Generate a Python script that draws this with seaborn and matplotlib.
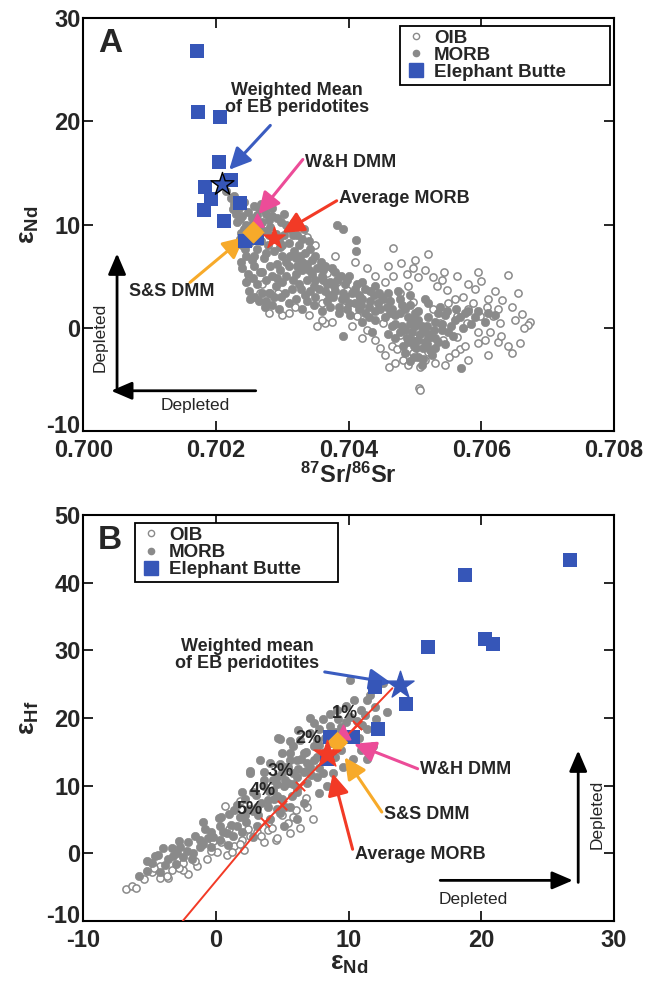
import matplotlib
matplotlib.use('Agg')
import matplotlib.pyplot as plt
import matplotlib.transforms as mtransforms
import seaborn as sns
import pandas as pd
from matplotlib.lines import Line2D

# ---------------- DATA ----------------
# Panel A: 87Sr/86Sr vs eps Nd
eb_a = [(0.70172, 26.8), (0.70173, 20.9), (0.70206, 20.4), (0.70205, 16.1),
        (0.70184, 13.6), (0.70223, 14.3), (0.70193, 12.5), (0.70236, 12.1),
        (0.70182, 11.4), (0.70212, 10.3), (0.70244, 8.4), (0.70262, 8.7)]
wmean_a = (0.70209, 13.9)
ss_dmm_a = (0.70256, 9.3)
avg_morb_a = (0.70288, 8.7)
wh_dmm_a = (0.70262, 10.4)

morb_a = [(0.70215, 13.2), (0.70222, 12.6), (0.70228, 12.0), (0.70235, 11.6), (0.70230, 11.0),
          (0.70240, 10.8), (0.70248, 11.2), (0.70255, 10.6), (0.70262, 10.9), (0.70270, 10.2),
          (0.70245, 10.0), (0.70252, 9.6), (0.70238, 9.2), (0.70260, 9.0), (0.70275, 9.4),
          (0.70282, 9.8), (0.70290, 9.1), (0.70268, 8.4), (0.70250, 8.2), (0.70240, 8.0),
          (0.70278, 8.0), (0.70295, 8.5), (0.70302, 9.0), (0.70310, 8.2), (0.70288, 7.4),
          (0.70262, 7.6), (0.70245, 7.0), (0.70272, 6.8), (0.70300, 7.0), (0.70318, 7.4),
          (0.70325, 8.0), (0.70335, 7.2), (0.70292, 6.2), (0.70258, 6.0), (0.70248, 5.2),
          (0.70270, 5.4), (0.70285, 5.0), (0.70310, 6.0), (0.70330, 6.4), (0.70345, 6.6),
          (0.70352, 5.8), (0.70320, 5.2), (0.70300, 4.4), (0.70262, 4.2), (0.70250, 3.6),
          (0.70280, 3.4), (0.70298, 3.0), (0.70315, 3.8), (0.70338, 4.6), (0.70360, 5.0),
          (0.70372, 4.4), (0.70355, 3.8), (0.70335, 3.2), (0.70310, 2.4), (0.70285, 2.2),
          (0.70265, 2.6), (0.70380, 3.6), (0.70395, 4.2), (0.70405, 3.4), (0.70390, 2.8),
          (0.70368, 2.6), (0.70348, 2.2), (0.70420, 2.8), (0.70432, 3.6), (0.70445, 2.4),
          (0.70458, 2.0), (0.70440, 1.6), (0.70415, 1.8), (0.70470, 1.2), (0.70485, 1.8),
          (0.70498, 0.8), (0.70510, 0.2), (0.70495, -0.4), (0.70480, 0.2), (0.70505, -1.2),
          (0.70520, -0.6), (0.70512, -2.0), (0.70530, 0.6), (0.70545, 1.2), (0.70560, 0.8),
          (0.70575, 1.4), (0.70590, 1.0), (0.70383, 10.0), (0.70392, 9.6), (0.70411, 8.5),
          (0.70411, 7.4), (0.70276, 2.6), (0.70392, -0.8), (0.70569, -3.9), (0.70228, 12.8),
          (0.70242, 12.2), (0.70258, 11.8), (0.70272, 11.4), (0.70285, 10.8), (0.70298, 10.2),
          (0.70312, 9.6), (0.70322, 9.0), (0.70340, 8.4), (0.70265, 11.6), (0.70232, 10.2),
          (0.70255, 10.0), (0.70280, 9.0), (0.70300, 8.0), (0.70320, 6.8), (0.70340, 5.6),
          (0.70365, 6.0), (0.70380, 5.4), (0.70400, 5.0), (0.70420, 4.4), (0.70440, 4.0),
          (0.70460, 3.4), (0.70478, 2.8), (0.70492, 2.2), (0.70505, 1.6), (0.70520, 1.0),
          (0.70500, 0.2), (0.70488, -1.0), (0.70515, -1.4), (0.70530, -1.0), (0.70525, -2.6),
          (0.70505, -2.8), (0.70540, -0.2), (0.70555, 0.2), (0.70538, 2.0), (0.70520, 2.4),
          (0.70455, 1.0), (0.70470, 0.4), (0.70430, 1.0), (0.70402, 1.2), (0.70385, 2.0),
          (0.70360, 1.6), (0.70330, 1.8), (0.70295, 1.8), (0.70270, 3.4), (0.70290, 4.0),
          (0.70325, 4.2), (0.70350, 4.6), (0.70370, 3.2), (0.70410, 2.4), (0.70450, 3.0),
          (0.70475, 3.6), (0.70492, 3.2), (0.70515, 2.8), (0.70498, -1.8), (0.70485, -2.4),
          (0.70530, -2.0), (0.70545, -1.6), (0.70558, -0.8), (0.70572, 0.0), (0.70585, 0.4),
          (0.70232, 12.4), (0.70238, 11.9), (0.70236, 10.5), (0.70242, 9.6), (0.70236, 8.6),
          (0.70244, 7.6), (0.70238, 6.4), (0.70254, 6.6), (0.70246, 4.4), (0.70256, 4.8),
          (0.70258, 3.0), (0.70252, 2.8), (0.70268, 12.0), (0.70275, 11.0), (0.70280, 10.4),
          (0.70292, 10.6), (0.70268, 9.6), (0.70286, 8.6), (0.70276, 7.2), (0.70296, 7.8),
          (0.70282, 6.0), (0.70296, 5.6), (0.70276, 4.6), (0.70292, 4.8), (0.70306, 5.0),
          (0.70288, 3.0), (0.70304, 3.4), (0.70274, 2.0), (0.70305, 10.0), (0.70316, 9.0),
          (0.70330, 8.6), (0.70312, 7.0), (0.70326, 7.0), (0.70342, 7.6), (0.70316, 4.6),
          (0.70330, 5.6), (0.70345, 5.2), (0.70328, 3.8), (0.70342, 3.6), (0.70320, 2.8),
          (0.70338, 2.6), (0.70350, 3.0), (0.70350, 7.0), (0.70358, 6.4), (0.70362, 5.6),
          (0.70375, 5.8), (0.70388, 5.0), (0.70368, 4.2), (0.70382, 4.6), (0.70398, 4.6),
          (0.70376, 3.0), (0.70392, 3.4), (0.70400, 2.4), (0.70372, 2.0), (0.70385, 1.4),
          (0.70398, 1.8), (0.70365, 3.6), (0.70410, 3.8), (0.70412, 4.2), (0.70425, 3.8),
          (0.70438, 3.2), (0.70418, 2.2), (0.70432, 2.6), (0.70448, 1.8), (0.70425, 1.4),
          (0.70440, 0.8), (0.70452, 2.8), (0.70462, 2.6), (0.70420, 0.6), (0.70435, -0.4),
          (0.70465, 1.8), (0.70478, 1.4), (0.70490, 1.0), (0.70465, 0.2), (0.70478, -0.4),
          (0.70492, 0.4), (0.70505, 0.8), (0.70518, 0.2), (0.70508, -0.6), (0.70490, -1.4),
          (0.70502, -2.0), (0.70518, -1.6), (0.70512, -3.0), (0.70498, -2.8), (0.70522, -2.2),
          (0.70510, -3.6), (0.70470, -1.0), (0.70482, -1.8), (0.70460, -0.6), (0.70528, -0.2),
          (0.70535, -1.4), (0.70540, 0.4), (0.70550, -0.4), (0.70548, 1.6), (0.70562, 1.8),
          (0.70568, 1.0), (0.70580, 1.6), (0.70595, 1.6), (0.70610, 1.4), (0.70605, 0.6),
          (0.70620, 1.2), (0.70226, 11.5), (0.70248, 9.0), (0.70264, 9.8), (0.70284, 11.6),
          (0.70302, 11.0), (0.70318, 10.2), (0.70332, 9.6), (0.70258, 7.0), (0.70266, 5.4),
          (0.70240, 5.8), (0.70306, 6.4), (0.70322, 6.0), (0.70338, 6.2), (0.70348, 4.0),
          (0.70362, 4.6), (0.70378, 4.0), (0.70395, 3.0), (0.70415, 3.2), (0.70430, 2.0),
          (0.70446, 3.4), (0.70462, 1.4), (0.70480, 2.2), (0.70500, 1.4), (0.70485, -0.2),
          (0.70512, -0.2), (0.70495, -1.2), (0.70520, -1.0), (0.70492, -3.2), (0.70535, 1.4)]

oib_a = [(0.70467, 7.7), (0.70520, 7.1), (0.70479, 6.3), (0.70497, 5.8), (0.70544, 5.4),
         (0.70563, 5.0), (0.70599, 4.5), (0.70640, 5.1), (0.70631, 2.7), (0.70646, 2.0),
         (0.70661, 1.3), (0.70673, 0.6), (0.70670, 0.3), (0.70640, -1.8), (0.70646, -2.4),
         (0.70625, -1.4), (0.70595, -1.5), (0.70580, -3.1), (0.70568, -2.1), (0.70551, -2.8),
         (0.70520, -2.3), (0.70508, -3.8), (0.70506, -5.8), (0.70482, -3.1), (0.70461, -3.8),
         (0.70447, -2.0), (0.70465, -1.8), (0.70428, -0.2), (0.70452, 0.5), (0.70413, 1.1),
         (0.70364, 0.5), (0.70360, 0.8), (0.70392, 2.0), (0.70360, 2.4), (0.70319, 2.0),
         (0.70294, 3.4), (0.70270, 4.2), (0.70267, 3.4), (0.70282, 3.4), (0.70337, 8.8),
         (0.70428, 5.8), (0.70440, 5.0), (0.70467, 5.0), (0.70488, 5.2), (0.70505, 4.9),
         (0.70527, 4.9), (0.70533, 4.0), (0.70548, 3.7), (0.70572, 3.0), (0.70587, 2.4),
         (0.70608, 2.0), (0.70617, 1.1), (0.70598, 1.1), (0.70578, 0.5), (0.70563, 1.1),
         (0.70538, 0.5), (0.70527, 1.8), (0.70497, 2.5), (0.70477, 3.4), (0.70458, 2.9),
         (0.70437, 2.2), (0.70417, 3.0), (0.70398, 3.7), (0.70383, 4.4), (0.70367, 5.3),
         (0.70563, -0.9), (0.70542, -1.2), (0.70523, -0.9), (0.70497, -0.9), (0.70477, -0.7),
         (0.70473, -2.1), (0.70497, -2.4), (0.70515, -3.1), (0.70658, -1.5), (0.70613, -0.4),
         (0.70628, 0.5), (0.70508, -6.0), (0.70655, 3.4), (0.70620, 3.6), (0.70590, 3.8),
         (0.70610, -2.6), (0.70595, -0.4), (0.70580, 1.8), (0.70550, 2.4), (0.70340, 1.2),
         (0.70310, 1.4), (0.70250, 4.8), (0.70455, 4.4), (0.70490, 4.0), (0.70560, 2.8),
         (0.70300, 1.2), (0.70280, 1.4), (0.70352, 0.2), (0.70375, 0.6), (0.70405, 0.2),
         (0.70420, -1.0), (0.70440, -1.2), (0.70455, -2.6), (0.70470, -3.4), (0.70490, -3.6),
         (0.70530, -3.4), (0.70545, -3.6), (0.70560, -2.4), (0.70575, -1.8), (0.70605, -1.2),
         (0.70630, -0.8), (0.70650, 0.8), (0.70665, 0.0), (0.70610, 2.8), (0.70625, 1.8),
         (0.70580, 4.2), (0.70540, 4.6), (0.70515, 5.6), (0.70460, 6.0), (0.70410, 6.4),
         (0.70380, 7.0), (0.70350, 8.0), (0.70320, 10.4), (0.70595, 5.4), (0.70500, 6.6)]

# Panel B: eps Nd vs eps Hf
eb_b = [(26.7, 43.4), (18.8, 41.2), (20.3, 31.6), (20.9, 31.0), (16.0, 30.5),
        (14.3, 22.0), (12.0, 24.6), (12.2, 18.4), (8.6, 17.2), (10.3, 17.2), (8.4, 13.9)]
wmean_b = (13.9, 24.9)
ss_dmm_b = (9.1, 16.4)
avg_morb_b = (8.4, 14.7)
wh_dmm_b = (9.6, 18.0)

morb_b = [(4.8, 16.9), (2.6, 12.2), (2.0, 9.0), (-1.0, 4.7), (-4.0, 0.8), (-4.2, -2.7),
          (-3.6, -0.9), (-2.7, 1.0), (-2.1, 1.6), (-1.2, 2.0), (-0.4, 3.1), (0.3, 4.0),
          (1.1, 4.2), (1.8, 5.4), (2.4, 6.4), (3.1, 6.9), (3.9, 7.9), (4.6, 8.4),
          (5.4, 10.4), (5.8, 11.9), (6.1, 13.8), (5.6, 13.8), (-2.5, -0.5), (-1.7, 0.1),
          (-2.9, 0.1), (-3.3, 0.8), (-0.4, 1.0), (0.3, 2.0), (1.3, 2.5), (2.0, 3.1),
          (3.1, 4.0), (4.1, 5.0), (4.8, 6.0), (5.2, 6.9), (5.7, 8.4), (6.1, 9.7),
          (3.6, 9.9), (4.3, 10.9), (5.0, 11.9), (5.4, 12.8), (2.3, 4.7), (0.5, 3.1),
          (-1.2, 1.0), (10.1, 25.6), (11.4, 22.7), (12.9, 20.9), (12.6, 25.2), (7.1, 20.0),
          (8.1, 19.8), (9.1, 21.2), (10.1, 20.2), (10.9, 21.2), (11.4, 18.3), (12.1, 19.8),
          (9.4, 18.7), (7.8, 18.3), (7.1, 17.8), (6.3, 16.8), (4.7, 17.1), (5.6, 14.8),
          (6.6, 14.8), (7.6, 14.3), (7.1, 12.8), (8.1, 11.9), (7.6, 11.3), (6.9, 10.4),
          (7.8, 8.9), (6.1, 11.3), (10.3, 13.9), (10.9, 15.3), (11.8, 15.8), (11.4, 13.9),
          (9.6, 12.8), (8.8, 11.9), (8.4, 9.9), (2.8, 9.0), (2.6, 11.9), (3.6, 10.9),
          (4.6, 11.3), (5.1, 12.8), (4.1, 13.4), (3.3, 13.8), (5.1, 9.9), (4.3, 9.4),
          (6.1, 9.0), (6.6, 7.5), (5.6, 6.9), (4.6, 6.5), (3.9, 6.9), (6.1, 5.0),
          (5.1, 4.0), (9.4, 15.3), (8.7, 16.3), (10.1, 17.2), (-5.2, -1.2), (-4.6, -0.4),
          (-3.0, -1.6), (-1.8, -0.8), (0.9, 1.2), (2.8, 2.4), (3.2, 5.6), (1.4, 6.4),
          (0.2, 5.2), (-0.6, 2.2), (6.8, 12.2), (7.4, 15.8), (8.2, 17.0), (9.0, 18.0),
          (9.8, 19.4), (11.0, 19.0), (8.6, 20.6), (7.6, 16.8), (6.6, 12.0), (5.0, 8.0),
          (-5.8, -3.4), (-5.2, -2.6), (-4.8, -1.4), (-4.4, -0.2), (-3.8, -1.8), (-3.2, -0.4),
          (-2.8, 1.8), (-2.2, 0.4), (-1.6, 2.6), (-1.0, 1.4), (-0.8, 3.6), (-0.2, 2.4),
          (0.4, 5.4), (0.8, 3.0), (1.0, 5.8), (1.6, 4.0), (1.6, 7.2), (2.2, 5.6),
          (2.2, 8.0), (2.8, 6.2), (3.0, 8.6), (3.4, 7.4), (3.6, 12.0), (4.0, 9.2),
          (4.4, 8.0), (4.6, 10.2), (4.8, 13.2), (5.0, 14.8), (5.2, 10.8), (5.8, 10.2),
          (5.8, 15.8), (6.2, 12.4), (6.4, 14.0), (6.8, 15.0), (6.9, 13.4), (7.2, 11.6),
          (7.4, 13.8), (7.8, 16.0), (7.8, 12.6), (8.2, 15.0), (8.6, 18.8), (9.2, 19.8),
          (9.4, 17.2), (9.8, 21.8), (10.4, 22.6), (10.6, 19.6), (11.2, 20.4), (11.6, 23.4),
          (12.0, 21.6), (7.4, 19.2), (6.2, 18.2), (5.6, 16.6), (10.8, 17.0), (9.0, 14.2)]

oib_b = [(-6.8, -5.3), (-6.3, -4.9), (-6.0, -5.2), (-4.8, -2.7), (-3.6, -3.6), (-2.1, -3.1),
         (-2.5, -2.4), (0.7, 7.0), (1.4, 1.1), (4.5, 2.0), (0.8, -0.2), (-0.7, -0.9),
         (-1.4, -1.9), (0.1, 0.2), (2.0, 2.0), (3.1, 3.1), (3.9, 3.5), (5.4, 4.5),
         (5.8, 5.4), (2.6, 6.5), (-2.5, -1.4), (-3.3, -2.4), (-4.2, -1.9), (4.6, 2.3),
         (6.3, 3.8), (-4.7, -2.1), (-3.7, -3.4), (2.1, 0.5), (3.6, 1.6), (5.6, 3.0),
         (2.6, 2.5), (7.3, 5.0), (6.9, 6.9), (3.9, 4.5), (1.0, 3.6), (-0.2, 1.8),
         (-5.4, -3.8), (-4.2, -3.6), (-2.8, -2.2), (-1.6, -1.2), (-0.4, 0.4), (0.4, 1.6),
         (1.2, 0.2), (1.8, 1.4), (2.4, 3.6), (3.4, 2.6), (4.2, 3.8), (5.0, 5.6),
         (6.0, 6.4), (6.8, 8.2), (1.8, 7.8)]

# mixing line (eps Nd, eps Hf) and melt-fraction marks
mix_line = [(-2.5, -10.0), (3.7, 4.6), (5.0, 7.2), (6.3, 10.0), (8.5, 14.5), (10.6, 18.9), (13.3, 24.4)]
pct_marks = [(10.6, 18.9), (8.5, 14.5), (6.3, 10.0), (5.0, 7.2), (3.7, 4.6)]
pct_labels = ['1%', '2%', '3%', '4%', '5%']
pct_label_pos = [(9.7, 20.6), (7.0, 16.9), (4.9, 12.1), (3.5, 9.3), (2.5, 6.5)]

xticks_a = [0.700, 0.702, 0.704, 0.706, 0.708]
xticklabels_a = ['0.700', '0.702', '0.704', '0.706', '0.708']
yticks_a = [-10, 0, 10, 20, 30]
xticks_b = [-10, 0, 10, 20, 30]
yticks_b = [-10, 0, 10, 20, 30, 40, 50]

# ---------------- STYLE ----------------
sns.set_style('ticks')
plt.rcParams['font.family'] = ['Liberation Sans', 'DejaVu Sans']
plt.rcParams['axes.unicode_minus'] = False
plt.rcParams['mathtext.fontset'] = 'custom'
plt.rcParams['mathtext.rm'] = 'Liberation Sans:bold'
plt.rcParams['mathtext.bf'] = 'Liberation Sans:bold'
plt.rcParams['mathtext.it'] = 'Liberation Sans:bold'
plt.rcParams['mathtext.default'] = 'regular'

GRAY = '#8a8a8a'
BLUE = '#3656b8'
ORANGE = '#f7aa2a'
RED = '#f23a26'
PINK = '#ec4c98'
ABLUE = '#3a5cc0'

fig = plt.figure(figsize=(6.45, 9.85), dpi=100)
axA = fig.add_axes([0.129, 0.5624, 0.823, 0.4193])
axB = fig.add_axes([0.129, 0.0650, 0.823, 0.4122])


def df(pairs):
    return pd.DataFrame(pairs, columns=['x', 'y'])


def style_axes(ax):
    for s in ax.spines.values():
        s.set_linewidth(1.5)
        s.set_color('black')
    ax.tick_params(direction='in', length=7, width=1.4, top=True, right=True,
                   labelsize=17, pad=2)
    ax.tick_params(axis='x', pad=6)
    for lab in ax.get_xticklabels() + ax.get_yticklabels():
        lab.set_fontweight('bold')
    # lift the lowest y label a little so it clears the first x label
    low = ax.get_yticklabels()[0]
    low.set_transform(low.get_transform() +
                      mtransforms.ScaledTranslation(0, 5 / 72, ax.figure.dpi_scale_trans))


def arrow(ax, frm, to, color, lw=2.2, hl=0.65, hw=0.32, ms=20):
    ax.annotate('', xy=to, xytext=frm,
                arrowprops=dict(arrowstyle=f'-|>,head_length={hl},head_width={hw}',
                                color=color, lw=lw, shrinkA=0, shrinkB=0,
                                mutation_scale=ms))


def scatter_all(ax, oib, morb, eb):
    sns.scatterplot(data=df(oib), x='x', y='y', ax=ax, marker='o', s=27,
                    facecolor='white', edgecolor=GRAY, linewidth=1.1, legend=False, zorder=2)
    sns.scatterplot(data=df(morb), x='x', y='y', ax=ax, marker='o', s=36,
                    color=GRAY, edgecolor=GRAY, linewidth=0.5, legend=False, zorder=3)
    sns.scatterplot(data=df(eb), x='x', y='y', ax=ax, marker='s', s=110,
                    color=BLUE, edgecolor=BLUE, linewidth=0, legend=False, zorder=4)


def legend(ax, box):
    handles = [Line2D([], [], ls='', marker='o', ms=4.5, mfc='white', mec=GRAY, mew=1.0),
               Line2D([], [], ls='', marker='o', ms=4.5, mfc=GRAY, mec=GRAY),
               Line2D([], [], ls='', marker='s', ms=10, mfc=BLUE, mec=BLUE)]
    leg = ax.legend(handles, ['OIB', 'MORB', 'Elephant Butte'], loc='upper left',
                    bbox_to_anchor=box, mode='expand', frameon=True, fancybox=False,
                    edgecolor='black', framealpha=1, borderpad=0.2,
                    labelspacing=0.0, handletextpad=0.3, handlelength=1.3,
                    borderaxespad=0, prop={'weight': 'bold', 'size': 13.5})
    leg.get_frame().set_linewidth(1.3)


# ---------------- PANEL A ----------------
scatter_all(axA, oib_a, morb_a, eb_a)
axA.scatter(*wh_dmm_a, marker='^', s=90, color=PINK, zorder=5)
axA.scatter(*ss_dmm_a, marker='D', s=110, color=ORANGE, zorder=6)
axA.scatter(*avg_morb_a, marker='*', s=260, color=RED, zorder=6)
axA.scatter(*wmean_a, marker='*', s=300, color=BLUE, edgecolor='black', linewidth=1.0, zorder=7)

axA.set_xlim(0.700, 0.708)
axA.set_ylim(-10, 30)
axA.set_xticks(xticks_a)
axA.set_xticklabels(xticklabels_a)
axA.set_yticks(yticks_a)
axA.set_xlabel(r'$^{87}$Sr/$^{86}$Sr', fontsize=17, fontweight='bold', labelpad=0)
axA.set_ylabel(r'ε$_{Nd}$', fontsize=19, fontweight='bold', labelpad=4)
style_axes(axA)
legend(axA, (0.597, 0.981, 0.395, 0.0))
axA.text(0.028, 0.975, 'A', transform=axA.transAxes, fontsize=24, fontweight='bold', va='top')

tk = dict(fontsize=13, fontweight='bold')
axA.text(0.70322, 22.2, 'Weighted Mean\nof EB peridotites', ha='center', va='center',
         linespacing=1.0, **tk)
arrow(axA, (0.70282, 19.6), (0.70220, 15.3), ABLUE)
axA.text(0.70335, 16.0, 'W&H DMM', ha='left', va='center', **tk)
arrow(axA, (0.70331, 16.3), (0.70264, 11.0), PINK)
axA.text(0.70385, 12.5, 'Average MORB', ha='left', va='center', **tk)
arrow(axA, (0.70382, 12.3), (0.70300, 9.2), RED)
axA.text(0.70134, 3.5, 'S&S DMM', ha='center', va='center', **tk)
arrow(axA, (0.70161, 4.4), (0.70243, 8.8), ORANGE)

arrow(axA, (0.70051, -6.1), (0.70051, 7.2), 'black', lw=2.0, hl=0.7, hw=0.3, ms=18)
arrow(axA, (0.70260, -6.1), (0.70042, -6.1), 'black', lw=2.0, hl=0.7, hw=0.3, ms=18)
axA.text(0.70025, -0.9, 'Depleted', rotation=90, ha='center', va='center', fontsize=12.5)
axA.text(0.70169, -7.5, 'Depleted', ha='center', va='center', fontsize=12.5)

# ---------------- PANEL B ----------------
scatter_all(axB, oib_b, morb_b, eb_b)
ml = df(mix_line)
sns.lineplot(data=ml, x='x', y='y', ax=axB, color=RED, lw=1.4, sort=False, zorder=5,
             estimator=None)
pm = df(pct_marks)
axB.scatter(pm['x'], pm['y'], marker='x', s=45, color=RED, linewidth=1.4, zorder=5)
for (px, py), lab in zip(pct_label_pos, pct_labels):
    axB.text(px, py, lab, ha='center', va='center', fontsize=13, fontweight='bold', zorder=8)

axB.scatter(*wh_dmm_b, marker='^', s=110, color=PINK, zorder=6)
axB.scatter(*ss_dmm_b, marker='D', s=100, color=ORANGE, zorder=6)
axB.scatter(*avg_morb_b, marker='*', s=420, color=RED, zorder=7)
axB.scatter(*wmean_b, marker='*', s=420, color=BLUE, zorder=7)

axB.set_xlim(-10, 30)
axB.set_ylim(-10, 50)
axB.set_xticks(xticks_b)
axB.set_yticks(yticks_b)
axB.set_xlabel(r'ε$_{Nd}$', fontsize=19, fontweight='bold', labelpad=0)
axB.set_ylabel(r'ε$_{Hf}$', fontsize=19, fontweight='bold', labelpad=4)
style_axes(axB)
legend(axB, (0.098, 0.980, 0.382, 0.0))
axB.text(0.028, 0.975, 'B', transform=axB.transAxes, fontsize=24, fontweight='bold', va='top')

axB.text(2.35, 29.3, 'Weighted mean\nof EB peridotites', ha='center', va='center',
         linespacing=1.0, **tk)
arrow(axB, (8.2, 26.8), (13.2, 25.2), ABLUE)
axB.text(15.4, 12.4, 'W&H DMM', ha='left', va='center', **tk)
arrow(axB, (15.2, 12.5), (10.4, 16.2), PINK)
axB.text(12.7, 5.7, 'S&S DMM', ha='left', va='center', **tk)
arrow(axB, (12.5, 6.1), (9.7, 14.2), ORANGE)
axB.text(10.5, -0.2, 'Average MORB', ha='left', va='center', **tk)
arrow(axB, (10.3, 0.6), (8.8, 11.8), RED)

arrow(axB, (16.9, -4.0), (26.9, -4.0), 'black', lw=2.0, hl=0.7, hw=0.3, ms=18)
arrow(axB, (27.3, -4.3), (27.3, 15.2), 'black', lw=2.0, hl=0.7, hw=0.3, ms=18)
axB.text(19.4, -6.9, 'Depleted', ha='center', va='center', fontsize=12.5)
axB.text(28.7, 5.7, 'Depleted', rotation=90, ha='center', va='center', fontsize=12.5)

fig.savefig('out.png', dpi=100)
